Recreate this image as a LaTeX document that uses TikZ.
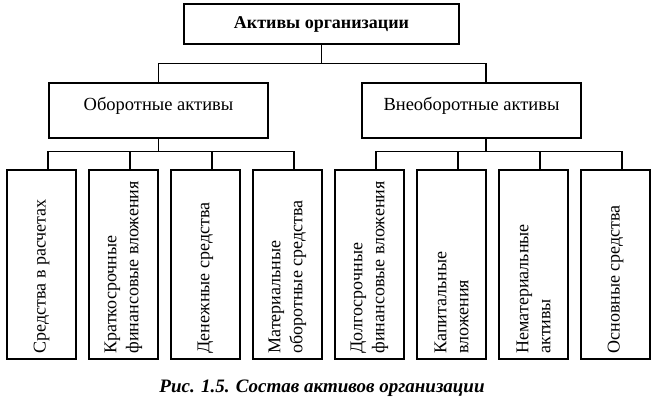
\documentclass[tikz,border=0pt]{standalone}
\usepackage{fontspec}
\setmainfont{Liberation Serif}
\usetikzlibrary{positioning}

\begin{document}
\begin{tikzpicture}
[every node/.style={inner sep=0pt},
 box/.style={rectangle, draw=black, line width=1.4pt, fill=white},
 leaf/.style={box, minimum width=69pt, minimum height=189pt},
 vtext/.style={rotate=90, anchor=west, align=left, font=\fontsize{18}{22}\selectfont},
 link/.style={line width=1.4pt, color=black}]
\useasboundingbox (0pt, 0pt) rectangle (669pt, -403pt);
\node (top) [box, minimum width=275pt, minimum height=40pt, font=\bfseries\fontsize{18}{20}\selectfont] at (321.5pt, -24pt) {Активы организации};
\node (lm) [box, minimum width=219pt, minimum height=55pt, text height=13pt, text depth=13pt, font=\fontsize{18.5}{21}\selectfont] at (158.5pt, -110.5pt) {Оборотные активы};
\node (rm) [box, minimum width=219pt, minimum height=55pt, text height=13pt, text depth=13pt, font=\fontsize{18.5}{21}\selectfont] at (471.5pt, -110.5pt) {Внеоборотные активы};
\node (b1) [leaf] at (41.5pt, -264.5pt) {};
\node (b2) [leaf] at (123.5pt, -264.5pt) {};
\node (b3) [leaf] at (205.5pt, -264.5pt) {};
\node (b4) [leaf] at (287.5pt, -264.5pt) {};
\node (b5) [leaf] at (369.5pt, -264.5pt) {};
\node (b6) [leaf] at (451.5pt, -264.5pt) {};
\node (b7) [leaf] at (533.5pt, -264.5pt) {};
\node (b8) [leaf] at (615.5pt, -264.5pt) {};
\node (t1) [vtext] at ([yshift=6pt]b1.south) {Средства в расчетах};
\node (t2) [vtext] at ([yshift=6pt]b2.south) {Краткосрочные\\финансовые вложения};
\node (t3) [vtext] at ([yshift=6pt]b3.south) {Денежные средства};
\node (t4) [vtext] at ([yshift=6pt]b4.south) {Материальные\\оборотные средства};
\node (t5) [vtext] at ([yshift=6pt]b5.south) {Долгосрочные\\финансовые вложения};
\node (t6) [vtext] at ([yshift=6pt]b6.south) {Капитальные\\вложения};
\node (t7) [vtext] at ([yshift=6pt]b7.south) {Нематериальные\\активы};
\node (t8) [vtext] at ([yshift=6pt]b8.south) {Основные средства};
\node (cap) [font=\bfseries\itshape\fontsize{19}{22}\selectfont] at (322pt, -388pt) {Рис. 1.5. Состав активов организации};
\draw [link] (top.south) -- ++(0pt, -19pt) -| (lm.north);
\draw [link] (top.south) -- ++(0pt, -19pt) -| ([xshift=14.5pt]rm.north);
\foreach \i in {1,...,4}
  \draw [link] (lm.south) -- ++(0pt, -13pt) -| ([xshift=6.5pt]b\i.north);
\foreach \i in {5,...,8}
  \draw [link] ([xshift=14.5pt]rm.south) -- ++(0pt, -13pt) -| ([xshift=6.5pt]b\i.north);
\end{tikzpicture}
\end{document}
